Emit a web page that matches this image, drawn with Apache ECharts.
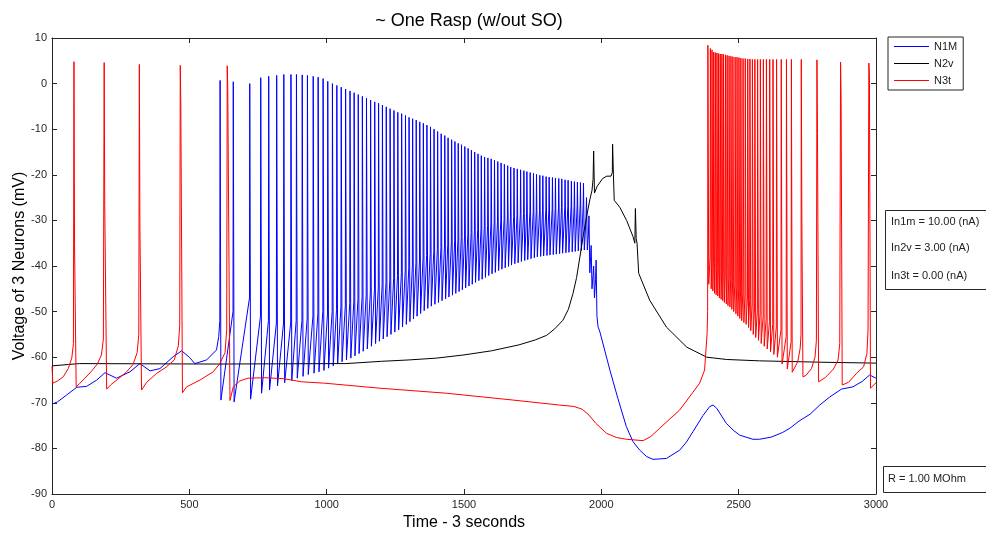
<!DOCTYPE html>
<html><head><meta charset="utf-8">
<script src="https://cdn.jsdelivr.net/npm/echarts@6/dist/echarts.min.js"></script>
<style>html,body{margin:0;padding:0;background:#fff}#c{width:986px;height:535px}</style>
</head><body><div id="c"></div><script>
// ---- axis ticks ----
const xTickValues = [0, 500, 1000, 1500, 2000, 2500, 3000];
const yTickValues = [-90, -80, -70, -60, -50, -40, -30, -20, -10, 0, 10];
const seriesNames = ['N1M', 'N2v', 'N3t'];
const annotationLines = ['In1m = 10.00 (nA)', 'In2v = 3.00 (nA)', 'In3t = 0.00 (nA)'];
const resistanceText = 'R = 1.00 MOhm';

// ---- N1M (blue) ----
const N1M_pre = [[0,-70.3],[20,-69.8],[53,-68.3],[90,-66.6],[126,-66.4],[163,-65],[193,-63.4],[235,-64.6],[284,-63.2],[320,-61.4],[357,-63],[393,-62.5],[441,-59.9],[472,-58.6],[500,-60],[520,-61.4],[563,-60.6],[599,-58.4],[607,-55.5]];
const N1M_spikeTimes = [612,660,720,760,789,818,844,870,890,911,930,951,969,987,
 1004,1021,1037,1053,1069,1085,1100,1115,1130,1145,1160,1175,1189,1203,1217,1231,1245,1259,1273,1287,
 1300,1313,1326,1339,1352,1365,1378,1391,1404,1417,1430,1442,1455,1467,1479,1491,1503,1515,1527,1539,
 1551,1563,1575,1587,1599,1611,1623,1635,1647,1659,1670,1682,1694,1706,1718,1729,1741,1753,1764,1776,
 1787,1799,1810,1822,1833,1845,1856,1868,1879,1891,1902,1913,1924,1935];
const N1M_spikePeaks = [0.7,0.4,0.0,1.3,1.6,1.8,2.0,2.0,2.0,1.9,1.8,1.6,1.4,1.1,
 0.5,0.0,-0.4,-0.8,-1.2,-1.6,-2.0,-2.4,-2.8,-3.2,-3.6,-4.0,-4.3,-4.7,-5.1,-5.5,-5.9,-6.3,-6.6,-7.0,
 -7.4,-7.7,-8.0,-8.4,-8.7,-9.1,-9.5,-10.0,-10.5,-11.0,-11.4,-11.9,-12.3,-12.7,-13.1,-13.4,-13.8,-14.2,-14.6,-15.0,
 -15.4,-15.8,-16.1,-16.3,-16.5,-16.8,-17.1,-17.4,-17.7,-18.0,-18.3,-18.5,-18.7,-18.9,-19.1,-19.3,-19.5,-19.7,-19.9,-20.1,
 -20.2,-20.4,-20.5,-20.6,-20.7,-20.8,-20.9,-21.1,-21.2,-21.4,-21.5,-21.6,-21.7,-21.8];
const N1M_spikeTroughs = [-69.4,-69.8,-69.2,-67.9,-67.2,-66.3,-65.6,-65.1,-64.6,-64.2,-63.8,-63.5,-63.2,-62.9,
 -62.4,-61.9,-61.4,-61.0,-60.6,-60.2,-59.7,-59.2,-58.7,-58.2,-57.6,-57.0,-56.5,-56.0,-55.5,-55.0,-54.5,-54.0,-53.4,-52.8,
 -52.2,-51.6,-51.0,-50.4,-49.8,-49.3,-48.8,-48.4,-48.0,-47.6,-47.2,-46.8,-46.4,-46.0,-45.6,-45.2,-44.8,-44.4,-44.0,-43.6,
 -43.2,-42.9,-42.5,-42.1,-41.7,-41.4,-41.0,-40.7,-40.4,-40.1,-39.8,-39.5,-39.3,-39.0,-38.8,-38.6,-38.4,-38.2,-38.0,-37.9,
 -37.8,-37.7,-37.6,-37.5,-37.4,-37.3,-37.2,-37.1,-37.0,-36.9,-36.8,-36.7,-36.6,-36.5];
const N1M_spikeThresholds = [-52,-50,-47,-51,-52,-52.5,-52.5,-52.5,-52,-52,-51.5,-51,-50.5,-50,
 -50.5,-50.0,-49.5,-49.0,-48.6,-48.2,-47.7,-47.2,-46.7,-46.2,-45.7,-45.1,-44.6,-44.1,-43.6,-43.1,-42.6,-42.1,-41.5,-41.0,
 -40.4,-39.8,-39.3,-38.7,-38.2,-37.7,-37.2,-36.8,-36.4,-36.0,-35.6,-35.2,-34.8,-34.5,-34.1,-33.7,-33.4,-33.0,-32.7,-32.3,
 -32.0,-31.7,-31.4,-31.1,-30.8,-30.5,-30.2,-30.0,-29.7,-29.5,-29.3,-29.1,-28.9,-28.7,-28.5,-28.4,-28.2,-28.1,-28.0,-27.9,
 -27.8,-27.7,-27.6,-27.5,-27.4,-27.3,-27.2,-27.1,-27.0,-26.9,-26.8,-26.7,-26.6,-26.5];
const N1M_post = [[1944,-30],[1946,-25],[1949,-36.5],[1953,-33],[1955,-29],[1958,-41.5],[1961,-38],[1963,-35.5],[1966,-45],[1970,-42],[1972,-40],[1975,-47],[1979,-43],[1981,-38.7],[1984,-51],[1988,-53.3],[1995,-54.5],[2031,-62.8],[2060,-69],[2091,-75.2],[2115,-78.5],[2140,-80.4],[2165,-81.8],[2188,-82.4],[2237,-82.2],[2285,-80.4],[2310,-78.6],[2334,-76.3],[2370,-72.8],[2395,-70.8],[2407,-70.5],[2420,-71.2],[2455,-74.5],[2480,-76],[2504,-77.1],[2552,-78],[2576,-78],[2620,-77.5],[2660,-76.5],[2686,-75.6],[2720,-74],[2760,-72.5],[2795,-70.5],[2830,-68.8],[2874,-67],[2916,-66.5],[2950,-65.3],[2977,-63.9],[3000,-64.6]];

// ---- N2v (black) ----
const N2v_points = [[0,-61.9],[60,-61.6],[100,-61.4],[600,-61.5],[1070,-61.4],[1075,-61.1],[1200,-60.9],[1300,-60.6],[1400,-60.2],[1500,-59.5],[1600,-58.6],[1700,-57.3],[1760,-56.2],[1801,-55.2],[1830,-53.8],[1860,-51.9],[1880,-49.5],[1897,-46],[1910,-42.5],[1922,-38],[1935,-33],[1946,-29.3],[1958,-25.5],[1966,-23.4],[1970,-21],[1972,-14.8],[1975,-24],[1985,-22.5],[2005,-20.8],[2020,-20.3],[2035,-20.3],[2040,-19.5],[2041,-13.3],[2044,-20],[2047,-25.6],[2067,-27.1],[2092,-30],[2115,-33.5],[2122,-35],[2124,-27.4],[2127,-34],[2130,-35],[2136,-41.6],[2176,-47.5],[2237,-53.4],[2311,-57.8],[2384,-60],[2456,-60.5],[2576,-60.8],[2800,-61.1],[3000,-61.3]];

// ---- N3t (red) ----
const N3t_pre = [[0,-62],[3,-65.7],[20,-65.2],[41,-64.3],[59,-62.5],[72,-60.2],[78,-57],[80,4.8],[82,-35],[88,-66.5],
 [100,-65.8],[120,-64.6],[145,-63],[165,-61.5],[180,-59.5],[187,-56],[190,4.6],[192,-26.7],[199,-67],
 [215,-66],[240,-64.8],[270,-63.3],[295,-61.6],[310,-59],[316,-55],[318,4.2],[320,-31],[326,-67.2],
 [345,-65.5],[380,-63.6],[415,-62.2],[445,-60.6],[460,-57.5],[465,-53],[467,4.0],[469,-5],[475,-67.8],
 [490,-66.5],[539,-65],[587,-63.2],[611,-61.4],[630,-59],[636,-54],[638,3.9],[640,-1.6],[648,-69.5],
 [660,-66.5],[684,-65.2],[714,-64.6],[775,-64.5],[842,-64.7],[909,-65.4],[993,-65.7],[1194,-66.8],[1436,-67.9],[1679,-69.4],[1849,-70.5],[1900,-70.8],[1930,-71.4],[1955,-72.7],[1980,-74.5],[2019,-76.7],[2055,-77.6],[2091,-78],[2152,-78.3],[2180,-77.4],[2212,-75.6],[2285,-71.6],[2358,-65.7],[2376,-62.8],[2385,-54.8]];
const N3t_burstTimes = [2388,2397,2403,2409,2415,2421,2427,2433,2439,2445,2452,2458,2465,2472,2479,2487,2494,2501,2508,2516,2524,2533,2541,2550,2559,2569,2579,2590,2601,2613,2625,2638,2655,2674,2692];
const N3t_burstPeaks = [8.4,7.7,7.4,6.9,6.8,6.7,6.6,6.5,6.5,6.4,6.3,6.2,6.1,6.0,5.9,5.8,5.8,5.7,5.6,5.5,5.5,5.4,5.4,5.3,5.3,5.3,5.3,5.3,5.3,5.3,5.3,5.3,5.3,5.3,5.3];
const N3t_burstTroughs = [-44,-45,-45.5,-46,-46.3,-46.6,-47,-47.3,-47.6,-48,-48.3,-48.7,-49,-49.5,-50,-50.5,-51,-51.5,-52,-52.4,-52.8,-53.5,-54.2,-55,-55.7,-56.3,-57,-57.6,-58.2,-58.8,-59.4,-60,-61.5,-62.6,-63.3];
const N3t_burstThresholds = [-50,-38,-39,-39.5,-40,-40.3,-40.6,-41,-41.3,-41.6,-42,-42.3,-42.7,-43,-43.5,-44,-44.5,-45,-45.5,-46,-46.4,-46.8,-47.5,-48.2,-49,-49.7,-50.3,-51,-51.6,-52.2,-52.8,-53.4,-54,-55.5,-56.6];
const N3t_post = [[2700,-63],[2715,-61],[2724,-58],[2727,-55],[2728,5.3],[2730,-29],[2734,-64.3],[2745,-64],[2765,-62.5],[2778,-60],[2783,-56.3],[2785,5.2],[2787,-11],[2791,-65.4],[2815,-64.5],[2845,-62.6],[2862,-60.6],[2868,-57],[2871,4.7],[2873,-3.7],[2877,-66.1],[2900,-65.5],[2930,-63.5],[2955,-62.1],[2967,-59.2],[2971,-54],[2974,4.5],[2976,2.2],[2980,-66.8],[3000,-65.6]];

// Assemble spike trains from the read spike times / levels
function buildTrain(times, peaks, troughs, thresholds, down) {
  const pts = [];
  for (let i = 0; i < times.length; i++) {
    pts.push([times[i] - 1, thresholds[i]]);
    pts.push([times[i], peaks[i]]);
    pts.push([times[i] + down, troughs[i]]);
  }
  return pts;
}
const N1M_data = N1M_pre.concat(buildTrain(N1M_spikeTimes, N1M_spikePeaks, N1M_spikeTroughs, N1M_spikeThresholds, 3), N1M_post);
const N3t_data = N3t_pre.concat(buildTrain(N3t_burstTimes, N3t_burstPeaks, N3t_burstTroughs, N3t_burstThresholds, 3), N3t_post);

const FONT = '"Liberation Sans", Arial, sans-serif';
const AX = '#262626';
const chart = echarts.init(document.getElementById('c'), null, {renderer: 'canvas'});

function axisCommon(extra) {
  return Object.assign({
    axisLine: {show: true, onZero: false, lineStyle: {color: AX, width: 1}},
    axisTick: {show: true, inside: true, length: 5, lineStyle: {color: AX}},
    splitLine: {show: false}
  }, extra);
}
const plainLabel = v => String(v);

chart.setOption({
  animation: false,
  backgroundColor: '#fff',
  title: {
    text: '~ One Rasp (w/out SO)', left: 464, top: 7, textAlign: 'center',
    textStyle: {fontFamily: FONT, fontSize: 18, fontWeight: 'normal', color: '#000'}
  },
  grid: {left: 52, top: 38, right: 110, bottom: 41, containLabel: false, outerBoundsMode: 'none'},
  legend: {
    data: seriesNames, orient: 'vertical', left: 888, top: 37,
    padding: [3, 6, 3, 6], itemGap: 4, itemWidth: 35, itemHeight: 1, itemTextGap: 3,
    icon: 'rect', backgroundColor: '#fff', borderColor: AX, borderWidth: 1, borderRadius: 0,
    textStyle: {fontFamily: FONT, fontSize: 11, color: '#222', lineHeight: 13}
  },
  xAxis: [
    axisCommon({type: 'value', min: xTickValues[0], max: xTickValues[xTickValues.length-1], interval: 500, position: 'bottom',
      axisLabel: {color: AX, fontFamily: FONT, fontSize: 11, margin: 5, formatter: plainLabel},
      name: 'Time - 3 seconds', nameLocation: 'middle', nameGap: 21, nameMoveOverlap: false,
      nameTextStyle: {fontFamily: FONT, fontSize: 16, color: '#000'}}),
    axisCommon({type: 'value', min: xTickValues[0], max: xTickValues[xTickValues.length-1], interval: 500, position: 'top',
      axisLabel: {show: false}})
  ],
  yAxis: [
    axisCommon({type: 'value', min: yTickValues[0], max: yTickValues[yTickValues.length-1], interval: 10, position: 'left',
      axisLabel: {color: AX, fontFamily: FONT, fontSize: 11, margin: 5, formatter: plainLabel},
      name: 'Voltage of 3 Neurons (mV)', nameLocation: 'middle', nameGap: 24, nameRotate: 90, nameMoveOverlap: false,
      nameTextStyle: {fontFamily: FONT, fontSize: 16, color: '#000'}}),
    axisCommon({type: 'value', min: yTickValues[0], max: yTickValues[yTickValues.length-1], interval: 10, position: 'right',
      axisLabel: {show: false}})
  ],
  series: [
    {name: seriesNames[0], type: 'line', data: N1M_data, showSymbol: false, symbol: 'none',
      color: '#0000ff', lineStyle: {color: '#0000ff', width: 1}, z: 3},
    {name: seriesNames[1], type: 'line', data: N2v_points, showSymbol: false, symbol: 'none',
      color: '#000000', lineStyle: {color: '#000000', width: 1}, z: 4},
    {name: seriesNames[2], type: 'line', data: N3t_data, showSymbol: false, symbol: 'none',
      color: '#ff0000', lineStyle: {color: '#ff0000', width: 1}, z: 5}
  ],
  graphic: [
    {type: 'rect', shape: {x: 885.5, y: 210.5, width: 130, height: 79}, style: {fill: '#fff', stroke: AX, lineWidth: 1}, z: 100},
    {type: 'text', x: 891, y: 222, style: {text: annotationLines[0], font: '11px ' + FONT, fill: '#222', verticalAlign: 'middle'}, z: 101},
    {type: 'text', x: 891, y: 248, style: {text: annotationLines[1], font: '11px ' + FONT, fill: '#222', verticalAlign: 'middle'}, z: 101},
    {type: 'text', x: 891, y: 276, style: {text: annotationLines[2], font: '11px ' + FONT, fill: '#222', verticalAlign: 'middle'}, z: 101},
    {type: 'rect', shape: {x: 883.5, y: 466.5, width: 130, height: 26}, style: {fill: '#fff', stroke: AX, lineWidth: 1}, z: 100},
    {type: 'text', x: 888, y: 479, style: {text: resistanceText, font: '11px ' + FONT, fill: '#222', verticalAlign: 'middle'}, z: 101}
  ]
});
</script></body></html>
